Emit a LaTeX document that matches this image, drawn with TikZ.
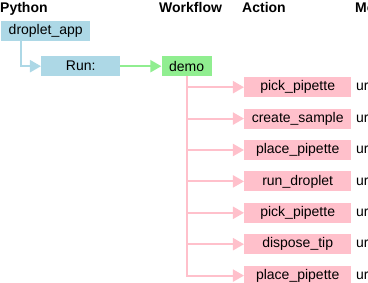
\documentclass[tikz,border=0pt]{standalone}
\usepackage{fontspec}
\setmainfont{Liberation Sans}
\usetikzlibrary{positioning,arrows.meta}

\definecolor{pyblue}{RGB}{173,216,230}
\definecolor{wfgreen}{RGB}{144,238,144}
\definecolor{actpink}{RGB}{255,192,203}

\begin{document}
\begin{tikzpicture}[x=1pt,y=-1pt]
  \useasboundingbox (0,0) rectangle (368,283);
  \begin{scope}[
    every node/.style={
      rectangle,
      inner sep=0pt,
      minimum height=20pt,
      font=\fontsize{14}{16}\selectfont,
    },
    head/.style={
      anchor=base west,
      minimum height=0pt,
      font=\fontsize{14}{16}\selectfont\bfseries,
    },
    pybox/.style={fill=pyblue},
    wfbox/.style={fill=wfgreen},
    actbox/.style={
      fill=actpink,
      minimum width=107pt,
    },
    ]
    % column heads
    \node [head] (hpy) at (0,12.5) {Python};
    \node [head] (hwf) at (159,12.5) {Workflow};
    \node [head] (hact) at (242,12.5) {Action};
    \node [head] (hmod) at (355,12.5) {Module};

    % python side
    \node [pybox,minimum width=89pt,anchor=north west] (app) at (1,21) {droplet\_app};
    \node [pybox,minimum width=79pt,anchor=north west] (run) at (41,56) {Run:};

    % workflow
    \node [wfbox,minimum width=50pt,right=41pt of run] (demo) {demo};

    % actions
    \node [actbox,anchor=north west] (A1) at (244,77) {pick\_pipette};
    \node [actbox,below=11pt of A1] (A2) {create\_sample};
    \node [actbox,below=11pt of A2] (A3) {place\_pipette};
    \node [actbox,below=11pt of A3] (A4) {run\_droplet};
    \node [actbox,below=11pt of A4] (A5) {pick\_pipette};
    \node [actbox,below=11pt of A5] (A6) {dispose\_tip};
    \node [actbox,below=11pt of A6] (A7) {place\_pipette};

    % modules
    \node [right=4.5pt of A1] (M1) {ur};
    \node [right=4.5pt of A2] (M2) {ur};
    \node [right=4.5pt of A3] (M3) {ur};
    \node [right=4.5pt of A4] (M4) {ur};
    \node [right=4.5pt of A5] (M5) {ur};
    \node [right=4.5pt of A6] (M6) {ur};
    \node [right=4.5pt of A7] (M7) {ur};
  \end{scope}
  \begin{scope}[
    myarrow/.style={
      -{Triangle[length=11pt,width=12pt]},
      line width=2pt,
    },
    ]
    % app -> run
    \draw [myarrow,pyblue] ([xshift=20pt]app.south west) |- (run.west);

    % run -> demo
    \draw [myarrow,wfgreen] (run) -- (demo);

    % demo -> actions
    \draw [myarrow,actpink] (demo.south) |- (A1.west);
    \draw [myarrow,actpink] (demo.south) |- (A2.west);
    \draw [myarrow,actpink] (demo.south) |- (A3.west);
    \draw [myarrow,actpink] (demo.south) |- (A4.west);
    \draw [myarrow,actpink] (demo.south) |- (A5.west);
    \draw [myarrow,actpink] (demo.south) |- (A6.west);
    \draw [myarrow,actpink] (demo.south) |- (A7.west);
  \end{scope}
\end{tikzpicture}
\end{document}
